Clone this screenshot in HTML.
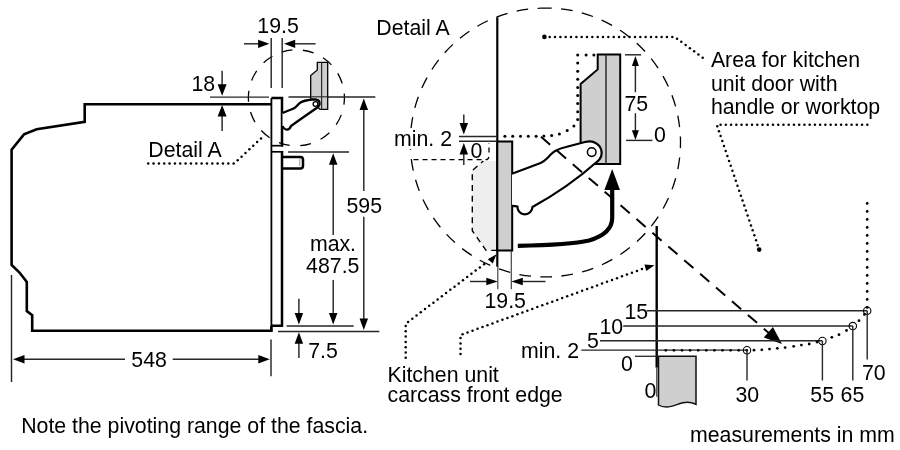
<!DOCTYPE html>
<html><head><meta charset="utf-8"><style>
html,body{margin:0;padding:0;background:#fff;width:900px;height:450px;overflow:hidden}
svg{display:block;will-change:transform}
text{font-family:"Liberation Sans",sans-serif;fill:#000}
</style></head><body>
<svg width="900" height="450" viewBox="0 0 900 450">
<path d="M271.6,104.2 H84.7 V121.8 L36.7,129.3 L24,134.4 L11.6,149.6 V265 L19.5,272.5 L26.8,282 V311 L32.2,315.2 V330.8 H271.4 V326" stroke="#000" stroke-width="2.6" fill="none" stroke-linejoin="miter" />
<line x1="271.40" y1="98.00" x2="271.40" y2="331.00" stroke="#000" stroke-width="1.8" />
<path d="M271.4,98 H282 V146.4" stroke="#000" stroke-width="2.5" fill="none" stroke-linejoin="miter" />
<line x1="271.40" y1="145.70" x2="283.20" y2="145.70" stroke="#000" stroke-width="1.7" />
<line x1="271.40" y1="151.80" x2="283.20" y2="151.80" stroke="#000" stroke-width="1.7" />
<path d="M282,151 V325.8 H271.4" stroke="#000" stroke-width="2.5" fill="none" stroke-linejoin="miter" />
<path d="M282,156.9 H300.3 Q303,156.9 303,159.7 V165.7 Q303,168.5 300.3,168.5 H282" stroke="#000" stroke-width="2.5" fill="none" stroke-linejoin="miter" />
<line x1="299.80" y1="158.60" x2="299.80" y2="166.20" stroke="#999" stroke-width="1" />
<path d="M281.65,52.12 A48,48 0 1,1 311.15,143.48 A48,48 0 1,1 281.65,52.12" fill="none" stroke="#000" stroke-width="1.3" stroke-dasharray="11 10.542"/>
<line x1="210.00" y1="97.10" x2="269.00" y2="97.10" stroke="#262626" stroke-width="1.45" />
<line x1="288.50" y1="97.00" x2="375.30" y2="97.00" stroke="#262626" stroke-width="1.45" />
<path d="M317.3,62.3 H327.7 V109.4 H320 L310.7,100 V75.5 L317.3,70 Z" stroke="#000" stroke-width="1.3" fill="#cfcfcf" stroke-linejoin="miter" />
<line x1="321.60" y1="62.30" x2="321.60" y2="109.40" stroke="#2a2a2a" stroke-width="1.2" />
<line x1="310.70" y1="96.80" x2="327.70" y2="96.80" stroke="#262626" stroke-width="1.1" />
<path d="M282.5,113 C288,110.5 292,109.5 294.5,108 C297,106.5 298,104 300.5,102.5 C303,101 306,100.3 312,99.5 L315.5,99.3 C318.5,99.5 320.2,102 319.5,104.5 C319,106 318,107 317,107.8 L308,114 L298,121 L291,126 C290,128.5 288,130 286,129.5 C284,129 283,127.5 282.5,126" stroke="#000" stroke-width="2.3" fill="#fff" stroke-linejoin="miter" />
<circle cx="315.5" cy="104" r="2.4" fill="#fff" stroke="#000" stroke-width="1.3"/>
<line x1="271.20" y1="38.00" x2="271.20" y2="88.00" stroke="#262626" stroke-width="1.45" />
<line x1="282.20" y1="38.00" x2="282.20" y2="88.00" stroke="#262626" stroke-width="1.45" />
<line x1="244.00" y1="43.80" x2="259.10" y2="43.80" stroke="#262626" stroke-width="1.45" />
<polygon points="269.30,43.80 258.10,47.90 258.10,39.70" fill="#000"/>
<line x1="315.60" y1="43.80" x2="294.20" y2="43.80" stroke="#262626" stroke-width="1.45" />
<polygon points="284.00,43.80 295.20,39.70 295.20,47.90" fill="#000"/>
<text x="257.3" y="33" font-size="21.3" text-anchor="start" >19.5</text>
<text x="191.5" y="90.8" font-size="21.3" text-anchor="start" >18</text>
<line x1="222.10" y1="70.70" x2="222.10" y2="85.20" stroke="#262626" stroke-width="1.45" />
<polygon points="222.10,95.70 217.60,84.20 226.60,84.20" fill="#000"/>
<line x1="222.10" y1="131.00" x2="222.10" y2="115.50" stroke="#262626" stroke-width="1.45" />
<polygon points="222.10,105.00 226.60,116.50 217.60,116.50" fill="#000"/>
<text x="148.3" y="157.4" font-size="21.3" text-anchor="start" >Detail A</text>
<circle cx="148.20" cy="163.60" r="1.25" fill="#000"/>
<circle cx="153.54" cy="163.60" r="1.25" fill="#000"/>
<circle cx="158.88" cy="163.60" r="1.25" fill="#000"/>
<circle cx="164.22" cy="163.60" r="1.25" fill="#000"/>
<circle cx="169.56" cy="163.60" r="1.25" fill="#000"/>
<circle cx="174.90" cy="163.60" r="1.25" fill="#000"/>
<circle cx="180.24" cy="163.60" r="1.25" fill="#000"/>
<circle cx="185.58" cy="163.60" r="1.25" fill="#000"/>
<circle cx="190.92" cy="163.60" r="1.25" fill="#000"/>
<circle cx="196.26" cy="163.60" r="1.25" fill="#000"/>
<circle cx="201.60" cy="163.60" r="1.25" fill="#000"/>
<circle cx="206.94" cy="163.60" r="1.25" fill="#000"/>
<circle cx="212.28" cy="163.60" r="1.25" fill="#000"/>
<circle cx="217.62" cy="163.60" r="1.25" fill="#000"/>
<circle cx="222.96" cy="163.60" r="1.25" fill="#000"/>
<circle cx="228.30" cy="163.60" r="1.25" fill="#000"/>
<circle cx="233.64" cy="163.60" r="1.25" fill="#000"/>
<circle cx="237.68" cy="160.33" r="1.25" fill="#000"/>
<circle cx="241.58" cy="156.67" r="1.25" fill="#000"/>
<circle cx="245.47" cy="153.02" r="1.25" fill="#000"/>
<circle cx="249.36" cy="149.36" r="1.25" fill="#000"/>
<circle cx="253.26" cy="145.71" r="1.25" fill="#000"/>
<circle cx="257.15" cy="142.05" r="1.25" fill="#000"/>
<circle cx="261.04" cy="138.40" r="1.25" fill="#000"/>
<line x1="363.80" y1="191.00" x2="363.80" y2="109.10" stroke="#262626" stroke-width="1.45" />
<polygon points="363.80,98.60 368.05,110.10 359.55,110.10" fill="#000"/>
<line x1="363.80" y1="216.70" x2="363.80" y2="319.50" stroke="#262626" stroke-width="1.45" />
<polygon points="363.80,330.00 359.55,318.50 368.05,318.50" fill="#000"/>
<text x="346.5" y="212.7" font-size="21.3" text-anchor="start" >595</text>
<line x1="278.00" y1="331.40" x2="379.30" y2="331.40" stroke="#262626" stroke-width="1.45" />
<line x1="288.00" y1="152.00" x2="349.00" y2="152.00" stroke="#262626" stroke-width="1.45" />
<line x1="333.20" y1="235.00" x2="333.20" y2="163.80" stroke="#262626" stroke-width="1.45" />
<polygon points="333.20,153.30 337.45,164.80 328.95,164.80" fill="#000"/>
<line x1="333.20" y1="280.00" x2="333.20" y2="314.00" stroke="#262626" stroke-width="1.45" />
<polygon points="333.20,324.50 328.95,313.00 337.45,313.00" fill="#000"/>
<line x1="286.60" y1="325.90" x2="353.70" y2="325.90" stroke="#262626" stroke-width="1.45" />
<text x="309.9" y="251" font-size="21.3" text-anchor="start" >max.</text>
<text x="306.1" y="272.5" font-size="21.3" text-anchor="start" >487.5</text>
<line x1="298.90" y1="298.70" x2="298.90" y2="314.00" stroke="#262626" stroke-width="1.45" />
<polygon points="298.90,324.50 294.65,313.00 303.15,313.00" fill="#000"/>
<line x1="298.90" y1="358.00" x2="298.90" y2="342.80" stroke="#262626" stroke-width="1.45" />
<polygon points="298.90,332.30 303.15,343.80 294.65,343.80" fill="#000"/>
<text x="308.2" y="357.8" font-size="21.3" text-anchor="start" >7.5</text>
<line x1="11.50" y1="275.00" x2="11.50" y2="382.00" stroke="#262626" stroke-width="1.45" />
<line x1="271.00" y1="339.40" x2="271.00" y2="376.20" stroke="#262626" stroke-width="1.45" />
<line x1="125.00" y1="359.20" x2="23.50" y2="359.20" stroke="#262626" stroke-width="1.45" />
<polygon points="13.00,359.20 24.50,354.95 24.50,363.45" fill="#000"/>
<line x1="172.70" y1="359.20" x2="259.30" y2="359.20" stroke="#262626" stroke-width="1.45" />
<polygon points="269.80,359.20 258.30,363.45 258.30,354.95" fill="#000"/>
<text x="131.3" y="366.6" font-size="21.3" text-anchor="start" >548</text>
<text x="21.2" y="432.6" font-size="21.3" text-anchor="start" >Note the pivoting range of the fascia.</text>
<text x="376.3" y="35.2" font-size="21.3" text-anchor="start" >Detail A</text>
<path d="M540.01,8.21 A134.4,134.4 0 1,1 550.79,276.79 A134.4,134.4 0 1,1 540.01,8.21" fill="none" stroke="#000" stroke-width="1.3" stroke-dasharray="11.7 9.412"/>
<path d="M472.3,170.5 L483.3,161 H497.3 V250.4 H486 L472.3,230.7 Z" fill="#eeeeee"/>
<path d="M413.5,159.7 H485.6 Q489,160 489,155 V143" stroke="#000" stroke-width="1.3" fill="none" stroke-dasharray="5 4" />
<path d="M483.3,161 L472.3,170.5 V230.7 L486,250.4 H497" stroke="#000" stroke-width="1.4" fill="none" stroke-dasharray="6 4.7" stroke-dashoffset="3"/>
<line x1="497.30" y1="17.30" x2="497.30" y2="266.70" stroke="#000" stroke-width="2.2" />
<path d="M497.3,141.6 H512.2 V250.4 H497.3 Z" stroke="#000" stroke-width="2" fill="#cfcfcf" stroke-linejoin="miter" />
<rect x="393" y="128" width="60" height="21" fill="#fff"/>
<text x="394" y="146" font-size="21.3" text-anchor="start" >min. 2</text>
<line x1="463.80" y1="114.40" x2="463.80" y2="124.10" stroke="#262626" stroke-width="1.45" />
<polygon points="463.80,134.60 459.55,123.10 468.05,123.10" fill="#000"/>
<line x1="463.80" y1="165.00" x2="463.80" y2="153.40" stroke="#262626" stroke-width="1.45" />
<polygon points="463.80,142.90 468.05,154.40 459.55,154.40" fill="#000"/>
<line x1="459.00" y1="136.50" x2="497.00" y2="136.50" stroke="#262626" stroke-width="1.45" />
<line x1="459.00" y1="141.20" x2="497.00" y2="141.20" stroke="#262626" stroke-width="1.45" />
<text x="470.4" y="158" font-size="21.3" text-anchor="start" >0</text>
<circle cx="577.70" cy="55.00" r="1.5" fill="#000"/>
<circle cx="586.10" cy="55.00" r="1.5" fill="#000"/>
<circle cx="593.90" cy="55.00" r="1.5" fill="#000"/>
<circle cx="577.70" cy="63.10" r="1.5" fill="#000"/>
<circle cx="577.70" cy="71.20" r="1.5" fill="#000"/>
<circle cx="577.70" cy="79.30" r="1.5" fill="#000"/>
<circle cx="577.70" cy="87.40" r="1.5" fill="#000"/>
<circle cx="577.70" cy="95.50" r="1.5" fill="#000"/>
<circle cx="577.70" cy="103.60" r="1.5" fill="#000"/>
<circle cx="577.70" cy="111.70" r="1.5" fill="#000"/>
<circle cx="577.70" cy="119.60" r="1.5" fill="#000"/>
<circle cx="573.90" cy="126.10" r="1.5" fill="#000"/>
<circle cx="567.20" cy="130.60" r="1.5" fill="#000"/>
<circle cx="559.40" cy="133.90" r="1.5" fill="#000"/>
<circle cx="551.70" cy="135.50" r="1.5" fill="#000"/>
<circle cx="543.90" cy="136.10" r="1.5" fill="#000"/>
<circle cx="536.10" cy="136.30" r="1.5" fill="#000"/>
<circle cx="528.30" cy="136.30" r="1.5" fill="#000"/>
<circle cx="520.50" cy="136.30" r="1.5" fill="#000"/>
<circle cx="512.70" cy="136.30" r="1.5" fill="#000"/>
<circle cx="504.90" cy="136.30" r="1.5" fill="#000"/>
<path d="M597.7,54.5 H620.2 V164.1 H590 L580.6,150 V83.9 L597.7,69.4 Z" stroke="#000" stroke-width="2" fill="#cfcfcf" stroke-linejoin="miter" />
<line x1="606.00" y1="54.50" x2="606.00" y2="164.10" stroke="#2a2a2a" stroke-width="1.5" />
<path d="M512,173.8 L540.6,163.1 C544,161.5 546,159.5 548,157.5 C551,154 553.5,151.5 556.6,150.3 C560,148.5 563,147.6 566,147 L585,142 C592,140.2 599.5,143 601.3,150 C602.6,155 600.5,159 597,161.8 Q568.3,187.3 532.5,207 A7.3,7.3 0 0,1 517.4,206.5 C516,206 514,205.8 512,205.8" stroke="#000" stroke-width="2.2" fill="#fff" stroke-linejoin="miter" />
<circle cx="591.7" cy="152.1" r="4.3" fill="#fff" stroke="#000" stroke-width="1.5"/>
<line x1="625.00" y1="54.80" x2="641.10" y2="54.80" stroke="#262626" stroke-width="1.45" />
<line x1="626.10" y1="140.40" x2="652.40" y2="140.40" stroke="#262626" stroke-width="1.45" />
<line x1="635.40" y1="92.20" x2="635.40" y2="64.90" stroke="#262626" stroke-width="1.45" />
<polygon points="635.40,56.10 638.90,65.90 631.90,65.90" fill="#000"/>
<line x1="635.40" y1="113.20" x2="635.40" y2="131.30" stroke="#262626" stroke-width="1.45" />
<polygon points="635.40,140.10 631.90,130.30 638.90,130.30" fill="#000"/>
<text x="624.5" y="111.2" font-size="21.3" text-anchor="start" >75</text>
<text x="654" y="141.6" font-size="21.3" text-anchor="start" >0</text>
<path d="M517.8,245.8 C545,245.3 572,244.5 589,240.5 C604,236 612.2,229 612.2,218 V188" stroke="#000" stroke-width="4.2" fill="none" stroke-linejoin="miter" />
<polygon points="612.20,169.00 620.00,190.00 604.40,190.00" fill="#000"/>
<path d="M540,136 L770,334" stroke="#000" stroke-width="2" fill="none" stroke-dasharray="12.1 8.9" stroke-dashoffset="-1.3"/>
<polygon points="782.00,344.00 763.79,337.58 772.91,326.96" fill="#000"/>
<circle cx="544.4" cy="36.9" r="2.3" fill="#000"/>
<circle cx="549.70" cy="36.90" r="1.25" fill="#000"/>
<circle cx="555.03" cy="36.90" r="1.25" fill="#000"/>
<circle cx="560.36" cy="36.90" r="1.25" fill="#000"/>
<circle cx="565.69" cy="36.90" r="1.25" fill="#000"/>
<circle cx="571.02" cy="36.90" r="1.25" fill="#000"/>
<circle cx="576.35" cy="36.90" r="1.25" fill="#000"/>
<circle cx="581.68" cy="36.90" r="1.25" fill="#000"/>
<circle cx="587.01" cy="36.90" r="1.25" fill="#000"/>
<circle cx="592.34" cy="36.90" r="1.25" fill="#000"/>
<circle cx="597.67" cy="36.90" r="1.25" fill="#000"/>
<circle cx="603.00" cy="36.90" r="1.25" fill="#000"/>
<circle cx="608.33" cy="36.90" r="1.25" fill="#000"/>
<circle cx="613.66" cy="36.90" r="1.25" fill="#000"/>
<circle cx="618.99" cy="36.90" r="1.25" fill="#000"/>
<circle cx="624.32" cy="36.90" r="1.25" fill="#000"/>
<circle cx="629.65" cy="36.90" r="1.25" fill="#000"/>
<circle cx="634.98" cy="36.90" r="1.25" fill="#000"/>
<circle cx="640.31" cy="36.90" r="1.25" fill="#000"/>
<circle cx="645.64" cy="36.90" r="1.25" fill="#000"/>
<circle cx="650.97" cy="36.90" r="1.25" fill="#000"/>
<circle cx="656.30" cy="36.90" r="1.25" fill="#000"/>
<circle cx="661.63" cy="36.90" r="1.25" fill="#000"/>
<circle cx="666.96" cy="36.90" r="1.25" fill="#000"/>
<circle cx="672.29" cy="36.90" r="1.25" fill="#000"/>
<circle cx="677.04" cy="38.64" r="1.25" fill="#000"/>
<circle cx="681.32" cy="41.82" r="1.25" fill="#000"/>
<circle cx="685.60" cy="45.01" r="1.25" fill="#000"/>
<circle cx="689.87" cy="48.19" r="1.25" fill="#000"/>
<circle cx="694.15" cy="51.37" r="1.25" fill="#000"/>
<circle cx="698.42" cy="54.55" r="1.25" fill="#000"/>
<circle cx="702.70" cy="57.73" r="1.25" fill="#000"/>
<text x="710.9" y="66.8" font-size="21.3" text-anchor="start" >Area for kitchen</text>
<text x="710.9" y="90.5" font-size="21.3" text-anchor="start" >unit door with</text>
<text x="710.9" y="114.3" font-size="21.3" text-anchor="start" >handle or worktop</text>
<circle cx="867.30" cy="124.80" r="1.25" fill="#000"/>
<circle cx="862.06" cy="124.80" r="1.25" fill="#000"/>
<circle cx="856.82" cy="124.80" r="1.25" fill="#000"/>
<circle cx="851.58" cy="124.80" r="1.25" fill="#000"/>
<circle cx="846.34" cy="124.80" r="1.25" fill="#000"/>
<circle cx="841.10" cy="124.80" r="1.25" fill="#000"/>
<circle cx="835.86" cy="124.80" r="1.25" fill="#000"/>
<circle cx="830.62" cy="124.80" r="1.25" fill="#000"/>
<circle cx="825.38" cy="124.80" r="1.25" fill="#000"/>
<circle cx="820.14" cy="124.80" r="1.25" fill="#000"/>
<circle cx="814.90" cy="124.80" r="1.25" fill="#000"/>
<circle cx="809.66" cy="124.80" r="1.25" fill="#000"/>
<circle cx="804.42" cy="124.80" r="1.25" fill="#000"/>
<circle cx="799.18" cy="124.80" r="1.25" fill="#000"/>
<circle cx="793.94" cy="124.80" r="1.25" fill="#000"/>
<circle cx="788.70" cy="124.80" r="1.25" fill="#000"/>
<circle cx="783.46" cy="124.80" r="1.25" fill="#000"/>
<circle cx="778.22" cy="124.80" r="1.25" fill="#000"/>
<circle cx="772.98" cy="124.80" r="1.25" fill="#000"/>
<circle cx="767.74" cy="124.80" r="1.25" fill="#000"/>
<circle cx="762.50" cy="124.80" r="1.25" fill="#000"/>
<circle cx="757.26" cy="124.80" r="1.25" fill="#000"/>
<circle cx="752.02" cy="124.80" r="1.25" fill="#000"/>
<circle cx="746.78" cy="124.80" r="1.25" fill="#000"/>
<circle cx="741.54" cy="124.80" r="1.25" fill="#000"/>
<circle cx="736.30" cy="124.80" r="1.25" fill="#000"/>
<circle cx="731.06" cy="124.80" r="1.25" fill="#000"/>
<circle cx="725.82" cy="124.80" r="1.25" fill="#000"/>
<circle cx="720.58" cy="124.80" r="1.25" fill="#000"/>
<circle cx="717.27" cy="126.18" r="1.25" fill="#000"/>
<circle cx="718.96" cy="131.14" r="1.25" fill="#000"/>
<circle cx="720.64" cy="136.11" r="1.25" fill="#000"/>
<circle cx="722.33" cy="141.07" r="1.25" fill="#000"/>
<circle cx="724.01" cy="146.03" r="1.25" fill="#000"/>
<circle cx="725.70" cy="150.99" r="1.25" fill="#000"/>
<circle cx="727.38" cy="155.95" r="1.25" fill="#000"/>
<circle cx="729.07" cy="160.91" r="1.25" fill="#000"/>
<circle cx="730.75" cy="165.87" r="1.25" fill="#000"/>
<circle cx="732.44" cy="170.84" r="1.25" fill="#000"/>
<circle cx="734.13" cy="175.80" r="1.25" fill="#000"/>
<circle cx="735.81" cy="180.76" r="1.25" fill="#000"/>
<circle cx="737.50" cy="185.72" r="1.25" fill="#000"/>
<circle cx="739.18" cy="190.68" r="1.25" fill="#000"/>
<circle cx="740.87" cy="195.64" r="1.25" fill="#000"/>
<circle cx="742.55" cy="200.60" r="1.25" fill="#000"/>
<circle cx="744.24" cy="205.57" r="1.25" fill="#000"/>
<circle cx="745.93" cy="210.53" r="1.25" fill="#000"/>
<circle cx="747.61" cy="215.49" r="1.25" fill="#000"/>
<circle cx="749.30" cy="220.45" r="1.25" fill="#000"/>
<circle cx="750.98" cy="225.41" r="1.25" fill="#000"/>
<circle cx="752.67" cy="230.37" r="1.25" fill="#000"/>
<circle cx="754.35" cy="235.33" r="1.25" fill="#000"/>
<circle cx="756.04" cy="240.30" r="1.25" fill="#000"/>
<circle cx="757.72" cy="245.26" r="1.25" fill="#000"/>
<circle cx="759.2" cy="249.6" r="2.3" fill="#000"/>
<line x1="497.80" y1="266.00" x2="497.80" y2="289.30" stroke="#444" stroke-width="1.2" />
<line x1="511.30" y1="251.00" x2="511.30" y2="289.30" stroke="#444" stroke-width="1.2" />
<line x1="470.00" y1="281.50" x2="487.30" y2="281.50" stroke="#262626" stroke-width="1.45" />
<polygon points="497.80,281.50 486.30,285.30 486.30,277.70" fill="#000"/>
<line x1="545.50" y1="281.50" x2="521.80" y2="281.50" stroke="#262626" stroke-width="1.45" />
<polygon points="511.30,281.50 522.80,277.70 522.80,285.30" fill="#000"/>
<text x="484.5" y="307.5" font-size="21.3" text-anchor="start" >19.5</text>
<circle cx="405.70" cy="357.80" r="1.25" fill="#000"/>
<circle cx="405.70" cy="352.50" r="1.25" fill="#000"/>
<circle cx="405.70" cy="347.20" r="1.25" fill="#000"/>
<circle cx="405.70" cy="341.90" r="1.25" fill="#000"/>
<circle cx="405.70" cy="336.60" r="1.25" fill="#000"/>
<circle cx="405.70" cy="331.30" r="1.25" fill="#000"/>
<circle cx="405.70" cy="326.00" r="1.25" fill="#000"/>
<circle cx="408.09" cy="321.89" r="1.25" fill="#000"/>
<circle cx="412.31" cy="318.68" r="1.25" fill="#000"/>
<circle cx="416.53" cy="315.48" r="1.25" fill="#000"/>
<circle cx="420.76" cy="312.27" r="1.25" fill="#000"/>
<circle cx="424.98" cy="309.07" r="1.25" fill="#000"/>
<circle cx="429.20" cy="305.87" r="1.25" fill="#000"/>
<circle cx="433.42" cy="302.66" r="1.25" fill="#000"/>
<circle cx="437.64" cy="299.46" r="1.25" fill="#000"/>
<circle cx="441.86" cy="296.25" r="1.25" fill="#000"/>
<circle cx="446.09" cy="293.05" r="1.25" fill="#000"/>
<circle cx="450.31" cy="289.85" r="1.25" fill="#000"/>
<circle cx="454.53" cy="286.64" r="1.25" fill="#000"/>
<circle cx="458.75" cy="283.44" r="1.25" fill="#000"/>
<circle cx="462.97" cy="280.23" r="1.25" fill="#000"/>
<circle cx="467.20" cy="277.03" r="1.25" fill="#000"/>
<circle cx="471.42" cy="273.83" r="1.25" fill="#000"/>
<circle cx="475.64" cy="270.62" r="1.25" fill="#000"/>
<circle cx="479.86" cy="267.42" r="1.25" fill="#000"/>
<circle cx="484.08" cy="264.21" r="1.25" fill="#000"/>
<polygon points="496.50,254.20 492.75,263.53 487.77,259.20" fill="#000"/>
<circle cx="460.50" cy="354.00" r="1.25" fill="#000"/>
<circle cx="460.50" cy="348.70" r="1.25" fill="#000"/>
<circle cx="460.50" cy="343.40" r="1.25" fill="#000"/>
<circle cx="460.50" cy="338.10" r="1.25" fill="#000"/>
<circle cx="462.57" cy="334.25" r="1.25" fill="#000"/>
<circle cx="467.55" cy="332.44" r="1.25" fill="#000"/>
<circle cx="472.53" cy="330.63" r="1.25" fill="#000"/>
<circle cx="477.51" cy="328.82" r="1.25" fill="#000"/>
<circle cx="482.49" cy="327.01" r="1.25" fill="#000"/>
<circle cx="487.48" cy="325.20" r="1.25" fill="#000"/>
<circle cx="492.46" cy="323.39" r="1.25" fill="#000"/>
<circle cx="497.44" cy="321.59" r="1.25" fill="#000"/>
<circle cx="502.42" cy="319.78" r="1.25" fill="#000"/>
<circle cx="507.40" cy="317.97" r="1.25" fill="#000"/>
<circle cx="512.38" cy="316.16" r="1.25" fill="#000"/>
<circle cx="517.37" cy="314.35" r="1.25" fill="#000"/>
<circle cx="522.35" cy="312.54" r="1.25" fill="#000"/>
<circle cx="527.33" cy="310.73" r="1.25" fill="#000"/>
<circle cx="532.31" cy="308.92" r="1.25" fill="#000"/>
<circle cx="537.29" cy="307.11" r="1.25" fill="#000"/>
<circle cx="542.27" cy="305.30" r="1.25" fill="#000"/>
<circle cx="547.26" cy="303.49" r="1.25" fill="#000"/>
<circle cx="552.24" cy="301.69" r="1.25" fill="#000"/>
<circle cx="557.22" cy="299.88" r="1.25" fill="#000"/>
<circle cx="562.20" cy="298.07" r="1.25" fill="#000"/>
<circle cx="567.18" cy="296.26" r="1.25" fill="#000"/>
<circle cx="572.17" cy="294.45" r="1.25" fill="#000"/>
<circle cx="577.15" cy="292.64" r="1.25" fill="#000"/>
<circle cx="582.13" cy="290.83" r="1.25" fill="#000"/>
<circle cx="587.11" cy="289.02" r="1.25" fill="#000"/>
<circle cx="592.09" cy="287.21" r="1.25" fill="#000"/>
<circle cx="597.07" cy="285.40" r="1.25" fill="#000"/>
<circle cx="602.06" cy="283.60" r="1.25" fill="#000"/>
<circle cx="607.04" cy="281.79" r="1.25" fill="#000"/>
<circle cx="612.02" cy="279.98" r="1.25" fill="#000"/>
<circle cx="617.00" cy="278.17" r="1.25" fill="#000"/>
<circle cx="621.98" cy="276.36" r="1.25" fill="#000"/>
<circle cx="626.96" cy="274.55" r="1.25" fill="#000"/>
<circle cx="631.95" cy="272.74" r="1.25" fill="#000"/>
<circle cx="636.93" cy="270.93" r="1.25" fill="#000"/>
<circle cx="641.91" cy="269.12" r="1.25" fill="#000"/>
<polygon points="654.50,265.20 646.27,271.04 644.43,264.49" fill="#000"/>
<text x="387.5" y="382.3" font-size="21.3" text-anchor="start" >Kitchen unit</text>
<text x="387.5" y="402" font-size="21.3" text-anchor="start" >carcass front edge</text>
<line x1="656.70" y1="226.00" x2="656.70" y2="367.60" stroke="#000" stroke-width="2.4" />
<text x="521" y="357.7" font-size="21.3" text-anchor="start" >min. 2</text>
<text x="624.5" y="319" font-size="21.3" text-anchor="start" >15</text>
<text x="599.5" y="334" font-size="21.3" text-anchor="start" >10</text>
<text x="587" y="348" font-size="21.3" text-anchor="start" >5</text>
<text x="621" y="370.7" font-size="21.3" text-anchor="start" >0</text>
<line x1="646.70" y1="310.80" x2="867.20" y2="310.80" stroke="#262626" stroke-width="1.6" />
<line x1="623.20" y1="325.90" x2="852.80" y2="325.90" stroke="#262626" stroke-width="1.5" />
<line x1="600.00" y1="340.70" x2="822.40" y2="340.70" stroke="#262626" stroke-width="1.5" />
<line x1="581.30" y1="350.20" x2="747.00" y2="350.20" stroke="#262626" stroke-width="1.2" />
<line x1="635.00" y1="356.30" x2="657.00" y2="356.30" stroke="#262626" stroke-width="1.3" />
<path d="M658.5,356.3 H696 V404.3 C692,402.5 690,402.3 687.3,402.3 C680,402.3 674,407 666.7,407 C662,407 660,406 658.5,405 Z" fill="#cfcfcf" stroke="#111" stroke-width="1.5"/>
<line x1="656.80" y1="367.60" x2="656.80" y2="396.70" stroke="#333" stroke-width="1.2" />
<text x="644.5" y="397.8" font-size="21.3" text-anchor="start" >0</text>
<circle cx="665.80" cy="350.30" r="1.35" fill="#000"/>
<circle cx="673.90" cy="350.30" r="1.35" fill="#000"/>
<circle cx="682.00" cy="350.30" r="1.35" fill="#000"/>
<circle cx="690.10" cy="350.30" r="1.35" fill="#000"/>
<circle cx="698.20" cy="350.30" r="1.35" fill="#000"/>
<circle cx="706.30" cy="350.30" r="1.35" fill="#000"/>
<circle cx="714.40" cy="350.30" r="1.35" fill="#000"/>
<circle cx="722.50" cy="350.30" r="1.35" fill="#000"/>
<circle cx="730.60" cy="350.30" r="1.35" fill="#000"/>
<circle cx="738.70" cy="350.30" r="1.35" fill="#000"/>
<circle cx="746.80" cy="350.30" r="1.35" fill="#000"/>
<circle cx="754" cy="350.2" r="1.4" fill="#000"/>
<circle cx="761.8" cy="349.8" r="1.4" fill="#000"/>
<circle cx="769.5" cy="349.1" r="1.4" fill="#000"/>
<circle cx="777.3" cy="348.3" r="1.4" fill="#000"/>
<circle cx="785.1" cy="347.6" r="1.4" fill="#000"/>
<circle cx="793.7" cy="346.3" r="1.4" fill="#000"/>
<circle cx="801.4" cy="345.1" r="1.4" fill="#000"/>
<circle cx="809.2" cy="344" r="1.4" fill="#000"/>
<circle cx="817" cy="342" r="1.4" fill="#000"/>
<circle cx="831.8" cy="337.3" r="1.4" fill="#000"/>
<circle cx="839" cy="334.7" r="1.4" fill="#000"/>
<circle cx="846.5" cy="330.5" r="1.4" fill="#000"/>
<circle cx="859" cy="320.7" r="1.4" fill="#000"/>
<circle cx="864.4" cy="314.4" r="1.4" fill="#000"/>
<circle cx="867.2" cy="307.4" r="1.4" fill="#000"/>
<circle cx="867.20" cy="299.40" r="1.4" fill="#000"/>
<circle cx="867.20" cy="291.40" r="1.4" fill="#000"/>
<circle cx="867.20" cy="283.40" r="1.4" fill="#000"/>
<circle cx="867.20" cy="275.40" r="1.4" fill="#000"/>
<circle cx="867.20" cy="267.40" r="1.4" fill="#000"/>
<circle cx="867.20" cy="259.40" r="1.4" fill="#000"/>
<circle cx="867.20" cy="251.40" r="1.4" fill="#000"/>
<circle cx="867.20" cy="243.40" r="1.4" fill="#000"/>
<circle cx="867.20" cy="235.40" r="1.4" fill="#000"/>
<circle cx="867.20" cy="227.40" r="1.4" fill="#000"/>
<circle cx="867.20" cy="219.40" r="1.4" fill="#000"/>
<circle cx="867.20" cy="211.40" r="1.4" fill="#000"/>
<circle cx="867.20" cy="203.40" r="1.4" fill="#000"/>
<circle cx="747" cy="350.2" r="3.7" fill="none" stroke="#000" stroke-width="1.1"/>
<circle cx="822.4" cy="340.9" r="3.7" fill="none" stroke="#000" stroke-width="1.1"/>
<circle cx="852.8" cy="326.1" r="3.7" fill="none" stroke="#000" stroke-width="1.1"/>
<circle cx="867.2" cy="310.7" r="3.7" fill="none" stroke="#000" stroke-width="1.1"/>
<line x1="747.00" y1="350.20" x2="747.00" y2="380.50" stroke="#262626" stroke-width="1.4" />
<line x1="822.40" y1="340.90" x2="822.40" y2="380.50" stroke="#262626" stroke-width="1.4" />
<line x1="852.80" y1="326.10" x2="852.80" y2="380.50" stroke="#262626" stroke-width="1.4" />
<line x1="867.20" y1="310.70" x2="867.20" y2="359.50" stroke="#262626" stroke-width="1.4" />
<text x="735.4" y="402" font-size="21.3" text-anchor="start" >30</text>
<text x="810.3" y="402" font-size="21.3" text-anchor="start" >55</text>
<text x="840.6" y="402" font-size="21.3" text-anchor="start" >65</text>
<text x="862" y="380" font-size="21.3" text-anchor="start" >70</text>
<text x="690" y="442" font-size="21.3" text-anchor="start" >measurements in mm</text>
</svg>
</body></html>
